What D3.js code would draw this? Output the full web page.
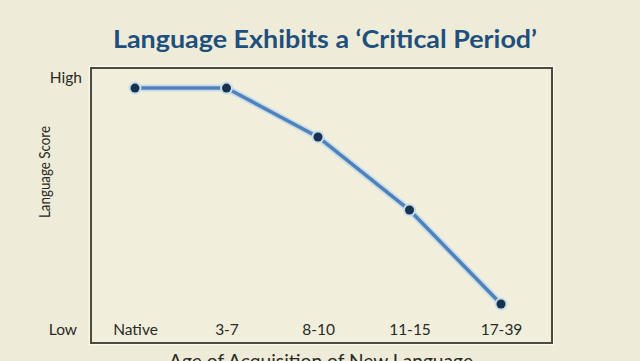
<!DOCTYPE html>
<html>
<head>
<meta charset="utf-8">
<script src="https://cdn.jsdelivr.net/npm/d3@7"></script>
<style>
  html, body { margin: 0; padding: 0; background: #eeecd8; }
  svg { display: block; }
</style>
</head>
<body>
<svg id="chart" width="640" height="361"></svg>
<script>
const categories = ["Native", "3-7", "8-10", "11-15", "17-39"];
const scores = [96, 96, 76.6, 47.6, 10.3];
const yTickValues = [0, 100];
const yTickLabels = ["Low", "High"];
const titleText = "Language Exhibits a \u2018Critical Period\u2019";
const xTitle = "Age of Acquisition of New Language";
const yTitle = "Language Score";

const svg = d3.select("#chart");
const W = 640, H = 361;
const box = { left: 91, right: 552, top: 68, bottom: 343 };

svg.append("rect").attr("width", W).attr("height", H).attr("fill", "#eeecd8");

// plot box
svg.append("rect")
  .attr("x", box.left - 1.5).attr("y", box.top - 1.5)
  .attr("width", box.right - box.left + 3).attr("height", box.bottom - box.top + 3)
  .attr("fill", "none").attr("stroke", "#fbfaf0").attr("stroke-width", 1.5);
svg.append("rect")
  .attr("x", box.left).attr("y", box.top)
  .attr("width", box.right - box.left).attr("height", box.bottom - box.top)
  .attr("fill", "#f1efdb").attr("stroke", "#4d4b3c").attr("stroke-width", 2);

const x = d3.scalePoint().domain(categories).range([135, 501]);
const y = d3.scaleLinear().domain([0, 100]).range([330, 78]);

// title
svg.append("text")
  .attr("x", 325).attr("y", 48)
  .attr("text-anchor", "middle")
  .attr("font-family", "Lato, 'Open Sans', sans-serif")
  .attr("font-weight", "bold")
  .attr("font-size", 25)
  .attr("fill", "#1f4f7c")
  .attr("textLength", 424).attr("lengthAdjust", "spacingAndGlyphs")
  .text(titleText);

// x axis labels
const xAxis = d3.axisBottom(x).tickSize(0).tickPadding(0);
const gx = svg.append("g").attr("transform", "translate(0,324)").call(xAxis);
gx.select(".domain").remove();
gx.selectAll("text")
  .attr("font-family", "Lato, sans-serif").attr("font-size", 15.5)
  .attr("fill", "#2a2a26");

// y axis labels
const yAxis = d3.axisLeft(y).tickValues(yTickValues)
  .tickFormat((d, i) => yTickLabels[i]).tickSize(0).tickPadding(0);
const gy = svg.append("g").attr("transform", "translate(82,0)").call(yAxis);
gy.select(".domain").remove();
gy.selectAll("text")
  .attr("font-family", "Lato, sans-serif").attr("font-size", 15.5)
  .attr("fill", "#2a2a26")
  .attr("dx", d => d === 0 ? -5 : 0);

// axis titles
svg.append("text")
  .attr("transform", "translate(50,172) rotate(-90)")
  .attr("text-anchor", "middle")
  .attr("font-family", "Lato, sans-serif").attr("font-size", 15)
  .attr("fill", "#2a2a26")
  .attr("textLength", 92).attr("lengthAdjust", "spacingAndGlyphs")
  .text(yTitle);

svg.append("text")
  .attr("x", 321).attr("y", 368)
  .attr("text-anchor", "middle")
  .attr("font-family", "Lato, sans-serif").attr("font-size", 19)
  .attr("fill", "#2a2a26")
  .attr("textLength", 304).attr("lengthAdjust", "spacingAndGlyphs")
  .text(xTitle);

// line
const data = categories.map((c, i) => ({ c, v: scores[i] }));
const line = d3.line().x(d => x(d.c)).y(d => y(d.v));
svg.append("path").datum(data).attr("d", line)
  .attr("fill", "none").attr("stroke", "#c9dcea").attr("stroke-width", 7)
  .attr("stroke-linecap", "round").attr("stroke-linejoin", "round");
svg.append("path").datum(data).attr("d", line)
  .attr("fill", "none").attr("stroke", "#4f82b8").attr("stroke-width", 3.5)
  .attr("stroke-linecap", "round").attr("stroke-linejoin", "round");

svg.selectAll("circle.halo").data(data).enter().append("circle")
  .attr("class", "halo")
  .attr("cx", d => x(d.c)).attr("cy", d => y(d.v)).attr("r", 6.5)
  .attr("fill", "#c9dcea");
svg.selectAll("circle.dot").data(data).enter().append("circle")
  .attr("class", "dot")
  .attr("cx", d => x(d.c)).attr("cy", d => y(d.v)).attr("r", 4.5)
  .attr("fill", "#16324f");
</script>
</body>
</html>
